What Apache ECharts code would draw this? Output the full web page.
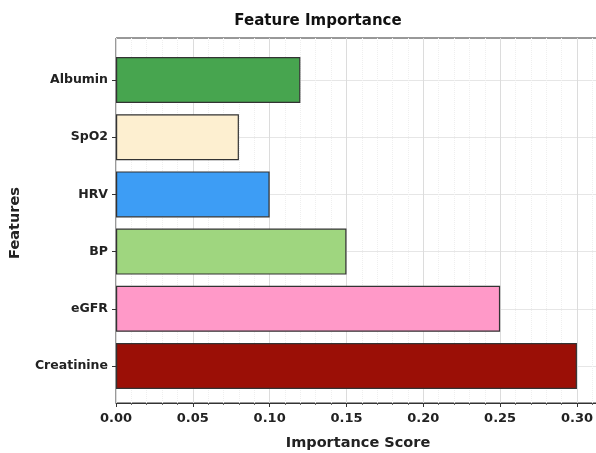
<!DOCTYPE html>
<html><head><meta charset="utf-8">
<script src="https://cdn.jsdelivr.net/npm/echarts@6/dist/echarts.min.js"></script>
<style>html,body{margin:0;padding:0;background:#fff}#c{width:596px;height:453px}</style>
</head><body><div id="c"></div>
<script>
const categories = ['Creatinine','eGFR','BP','HRV','SpO2','Albumin'];
const values = [0.30, 0.25, 0.15, 0.10, 0.08, 0.12];
const barColors = ['#9b0f06','#ff99c8','#9fd67f','#3d9df5','#fdefd0','#47a54f'];
const xTicks = [0, 0.05, 0.10, 0.15, 0.20, 0.25, 0.30];

const font = 'DejaVu Sans';
const chart = echarts.init(document.getElementById('c'), null, {renderer:'canvas'});
const xMin = 0, xMax = 0.315;
chart.setOption({
  animation: false,
  title: {text: 'Feature Importance', left: 313, top: 9, textAlign: 'center',
    textStyle: {fontFamily: font, fontWeight: 'bold', fontSize: 15, color: '#111'}},
  grid: [
    {left: 116, right: -4, top: 38, bottom: 50, outerBoundsMode: 'none', containLabel: false,
     show: true, borderColor: '#333', borderWidth: 1, backgroundColor: 'transparent'},
    {left: 116, right: -4, top: 80, bottom: 87, outerBoundsMode: 'none', containLabel: false}
  ],
  xAxis: [
    {gridIndex: 0, type: 'value', min: xMin, max: xMax, interval: 0.05,
     name: 'Importance Score', nameLocation: 'middle', nameGap: 33,
     nameTextStyle: {fontFamily: font, fontWeight: 'bold', fontSize: 14.5, color: '#222'},
     axisLine: {show: true, lineStyle: {color: '#333'}},
     axisTick: {show: true, length: 4, lineStyle: {color: '#333'}},
     minorTick: {show: true, splitNumber: 5, length: 2, lineStyle: {color: '#666'}},
     minorSplitLine: {show: true, lineStyle: {color: '#efefef', type: 'dotted'}},
     splitLine: {show: true, lineStyle: {color: '#dcdcdc'}},
     axisLabel: {fontFamily: font, fontWeight: 'bold', fontSize: 13, color: '#222', margin: 9,
       formatter: v => v.toFixed(2), showMaxLabel: false}},
    {gridIndex: 1, type: 'value', min: xMin, max: xMax, show: false}
  ],
  yAxis: [
    {gridIndex: 0, type: 'value', show: false},
    {gridIndex: 1, type: 'category', data: categories, boundaryGap: false,
     name: 'Features', nameLocation: 'middle', nameGap: 93, nameRotate: 90,
     nameTextStyle: {fontFamily: font, fontWeight: 'bold', fontSize: 14.5, color: '#222'},
     axisLine: {show: false},
     axisTick: {show: true, length: 4, lineStyle: {color: '#333'}},
     splitLine: {show: true, lineStyle: {color: '#e6e6e6'}},
     axisLabel: {fontFamily: font, fontWeight: 'bold', fontSize: 12.5, color: '#222', margin: 8}}
  ],
  series: [{
    type: 'bar', xAxisIndex: 1, yAxisIndex: 1, clip: false,
    barWidth: 46,
    data: values.map((v, i) => ({value: v, itemStyle: {color: barColors[i]}})),
    itemStyle: {borderColor: '#333', borderWidth: 1.2}
  }]
});
</script></body></html>
